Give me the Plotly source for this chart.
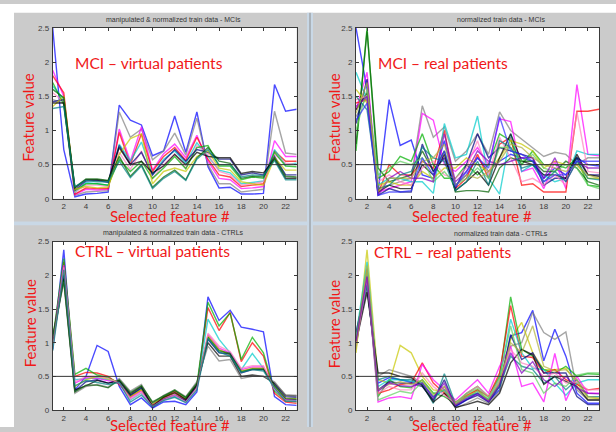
import plotly.graph_objects as go

W, H = 616, 432

features = list(range(1, 24))
threshold = 0.5

# ---- MCI, manipulated (virtual) data ----
mci_virtual = {
    "#0000ff": [2.50,0.72,0.03,0.07,0.08,0.10,1.37,1.15,1.08,0.63,0.70,1.21,0.68,1.27,0.47,0.16,0.17,0.07,0.07,0.08,1.67,1.28,1.31],
    "#808080": [1.45,1.40,0.05,0.10,0.11,0.12,1.27,0.90,1.02,0.57,0.70,0.96,0.64,1.18,0.50,0.22,0.22,0.10,0.12,0.14,1.28,0.67,0.65],
    "#ff00ff": [1.88,1.50,0.06,0.14,0.13,0.14,1.02,0.55,1.05,0.42,0.66,0.80,0.60,0.93,0.55,0.30,0.28,0.15,0.16,0.18,0.85,0.62,0.62],
    "#ff0000": [1.80,1.55,0.07,0.16,0.15,0.15,0.97,0.50,0.95,0.40,0.62,0.75,0.56,0.90,0.58,0.35,0.32,0.18,0.20,0.22,0.70,0.55,0.55],
    "#00cccc": [1.65,1.45,0.09,0.24,0.22,0.20,0.80,0.55,0.83,0.35,0.58,0.70,0.52,0.82,0.62,0.42,0.38,0.22,0.24,0.26,0.72,0.50,0.52],
    "#ff80c0": [1.55,1.42,0.10,0.20,0.20,0.18,0.68,0.43,0.70,0.30,0.50,0.66,0.45,0.78,0.65,0.40,0.35,0.20,0.22,0.25,0.65,0.52,0.50],
    "#00b000": [1.70,1.38,0.12,0.22,0.22,0.20,0.58,0.40,0.55,0.30,0.45,0.62,0.44,0.75,0.78,0.48,0.48,0.28,0.32,0.30,0.68,0.48,0.47],
    "#000080": [1.42,1.45,0.13,0.26,0.27,0.24,0.78,0.50,0.68,0.35,0.55,0.72,0.55,0.72,0.68,0.58,0.58,0.35,0.38,0.35,0.62,0.35,0.35],
    "#c8c800": [1.35,1.50,0.14,0.18,0.16,0.17,0.65,0.88,0.95,0.22,0.40,0.45,0.40,0.62,0.70,0.45,0.42,0.25,0.22,0.20,0.60,0.42,0.42],
    "#000000": [1.40,1.40,0.16,0.28,0.28,0.26,0.75,0.50,0.55,0.38,0.48,0.65,0.50,0.68,0.62,0.60,0.60,0.37,0.40,0.38,0.58,0.30,0.30],
    "#006000": [1.60,1.48,0.17,0.29,0.29,0.27,0.62,0.33,0.50,0.17,0.32,0.42,0.28,0.60,0.75,0.55,0.52,0.30,0.33,0.32,0.60,0.33,0.32],
    "#008080": [1.32,1.35,0.18,0.27,0.25,0.25,0.55,0.31,0.48,0.15,0.30,0.40,0.27,0.58,0.72,0.50,0.50,0.32,0.35,0.34,0.56,0.28,0.28],
}

# ---- MCI, original (real) data ----
mci_real = {
    "#0000ff": [2.50,1.60,0.10,1.45,0.78,0.86,0.35,0.30,0.85,0.20,0.35,0.60,0.40,0.55,0.65,0.60,0.55,0.30,0.45,0.35,0.60,0.50,0.48],
    "#808080": [1.20,1.50,0.15,0.20,0.25,0.30,1.36,0.90,1.05,0.55,0.70,0.95,0.65,1.27,1.00,0.87,0.75,0.62,0.68,0.65,0.50,0.60,0.60],
    "#ff00ff": [1.30,1.85,0.10,0.15,0.20,0.25,1.25,1.15,0.50,0.40,0.55,0.75,0.50,1.17,1.13,0.40,0.45,0.15,0.55,0.15,1.67,0.65,0.63],
    "#ff0000": [1.40,1.45,0.08,0.50,0.35,0.35,0.55,0.45,1.00,0.15,0.30,0.65,0.30,0.80,0.90,0.20,0.22,0.10,0.10,0.10,1.28,1.28,1.31],
    "#00cccc": [1.85,1.45,0.20,0.30,0.30,0.25,0.25,0.08,1.10,0.60,0.65,1.21,0.30,0.07,0.95,0.40,0.50,0.35,0.25,0.30,0.70,0.65,0.65],
    "#00b000": [0.70,2.50,0.30,0.40,0.62,0.55,0.95,0.50,0.30,0.30,0.50,0.35,0.50,0.95,0.85,0.50,0.70,0.50,0.50,0.45,0.60,0.20,0.18],
    "#006000": [0.80,2.45,0.45,0.25,0.30,0.35,0.70,0.40,0.70,0.10,0.12,0.12,0.10,0.45,0.60,0.55,0.55,0.40,0.40,0.55,0.45,0.25,0.20],
    "#000080": [1.10,1.75,0.05,0.15,0.10,0.10,0.80,0.40,0.60,0.15,0.50,0.95,0.60,0.75,0.70,0.65,0.60,0.20,0.30,0.30,0.60,0.35,0.35],
    "#c8c800": [1.60,1.40,0.20,0.25,0.20,0.20,0.40,0.30,0.45,0.45,0.60,0.50,0.40,0.60,0.85,0.80,0.70,0.45,0.55,0.50,0.50,0.30,0.30],
    "#000000": [1.30,1.55,0.10,0.20,0.15,0.15,0.50,0.35,0.65,0.12,0.25,0.40,0.20,0.60,0.95,0.55,0.50,0.35,0.35,0.30,0.65,0.35,0.33],
    "#ff80c0": [1.45,1.50,0.25,0.35,0.25,0.20,0.45,0.55,0.35,0.30,0.45,0.85,0.35,0.90,0.60,0.25,0.30,0.20,0.35,0.20,1.27,0.40,0.38],
    "#60d060": [1.00,1.60,0.35,0.45,0.55,0.50,0.60,0.25,0.40,0.20,0.30,0.45,0.30,0.75,0.75,0.55,0.65,0.45,0.40,0.50,0.45,0.20,0.15],
    "#8000c0": [1.35,1.50,0.05,0.30,0.40,0.30,0.30,0.25,0.95,0.25,0.40,0.70,0.55,0.50,0.55,0.60,0.60,0.30,0.60,0.25,0.55,0.45,0.45],
    "#008080": [1.50,1.30,0.15,0.20,0.35,0.40,0.75,0.60,0.55,0.12,0.25,0.55,0.20,0.85,0.75,0.45,0.50,0.25,0.40,0.25,0.55,0.30,0.28],
    "#b0b040": [1.25,1.70,0.10,0.30,0.30,0.30,0.55,0.60,0.80,0.20,0.35,0.30,0.40,0.55,0.80,0.75,0.60,0.50,0.45,0.40,0.50,0.35,0.30],
    "#3030ff": [1.15,1.40,0.05,0.10,0.10,0.12,0.60,0.35,0.70,0.18,0.40,0.60,0.45,1.20,0.70,0.65,0.55,0.25,0.35,0.35,0.55,0.55,0.55],
}

# ---- CTRL, manipulated (virtual) data ----
ctrl_virtual = {
    "#0000ff": [0.90,2.38,0.30,0.50,0.96,0.87,0.35,0.08,0.18,0.03,0.12,0.13,0.08,0.27,1.68,1.33,1.48,1.23,1.20,1.16,0.20,0.08,0.07],
    "#ff0000": [1.00,2.20,0.50,0.56,0.55,0.50,0.38,0.20,0.30,0.08,0.18,0.28,0.15,0.35,1.52,1.18,1.45,0.72,1.00,0.80,0.25,0.12,0.10],
    "#00b000": [1.05,2.25,0.53,0.62,0.52,0.48,0.40,0.22,0.32,0.10,0.20,0.30,0.18,0.37,1.60,1.25,1.44,0.75,1.08,0.85,0.28,0.14,0.12],
    "#00cccc": [0.95,2.10,0.45,0.47,0.48,0.45,0.42,0.15,0.25,0.06,0.15,0.20,0.12,0.33,1.35,1.05,0.85,0.60,0.84,0.62,0.30,0.16,0.15],
    "#ff00ff": [1.00,2.15,0.40,0.48,0.47,0.43,0.40,0.18,0.28,0.07,0.17,0.24,0.14,0.34,1.12,0.92,0.85,0.60,0.64,0.64,0.32,0.16,0.15],
    "#c8c800": [0.98,2.05,0.35,0.45,0.50,0.46,0.42,0.20,0.30,0.09,0.18,0.25,0.15,0.35,1.10,0.90,0.82,0.58,0.62,0.62,0.35,0.18,0.17],
    "#000080": [1.05,2.00,0.28,0.42,0.45,0.40,0.43,0.22,0.33,0.04,0.16,0.22,0.14,0.36,1.05,0.85,0.83,0.55,0.60,0.60,0.38,0.20,0.19],
    "#000000": [1.02,1.95,0.30,0.36,0.44,0.40,0.44,0.24,0.35,0.06,0.19,0.26,0.16,0.38,1.00,0.80,0.80,0.50,0.52,0.50,0.40,0.22,0.21],
    "#808080": [1.08,1.90,0.25,0.35,0.38,0.34,0.47,0.28,0.38,0.10,0.22,0.30,0.20,0.42,0.95,0.73,0.75,0.47,0.50,0.50,0.42,0.22,0.22],
    "#006000": [1.10,1.92,0.27,0.37,0.37,0.33,0.45,0.26,0.36,0.12,0.21,0.29,0.19,0.40,1.08,0.88,0.84,0.57,0.61,0.61,0.36,0.17,0.16],
    "#ff80c0": [0.92,2.12,0.42,0.50,0.50,0.47,0.40,0.16,0.26,0.05,0.15,0.22,0.12,0.32,1.14,0.95,0.87,0.62,0.66,0.66,0.31,0.14,0.12],
    "#008080": [0.88,2.08,0.36,0.44,0.41,0.38,0.41,0.12,0.22,0.05,0.14,0.19,0.11,0.30,1.06,0.86,0.80,0.56,0.60,0.58,0.33,0.13,0.13],
}

# ---- CTRL, original (real) data ----
ctrl_real = {
    "#0000ff": [1.00,1.85,0.40,0.48,0.45,0.42,0.38,0.20,0.30,0.05,0.15,0.25,0.13,0.30,1.10,1.15,1.48,0.73,1.20,0.80,0.25,0.10,0.10],
    "#808080": [1.10,1.80,0.50,0.60,0.55,0.50,0.40,0.15,0.35,0.03,0.10,0.18,0.10,0.28,0.95,1.00,1.45,1.15,1.05,1.16,0.30,0.15,0.15],
    "#c8c800": [0.85,2.38,0.45,0.40,0.96,0.85,0.50,0.30,0.28,0.08,0.20,0.30,0.15,0.40,1.05,1.30,0.85,0.60,0.60,0.62,0.40,0.18,0.17],
    "#00b000": [0.95,2.00,0.20,0.45,0.35,0.33,0.45,0.25,0.20,0.10,0.25,0.35,0.20,0.50,1.68,0.90,0.80,0.60,0.55,0.65,0.50,0.54,0.53],
    "#ff0000": [1.05,2.10,0.25,0.30,0.38,0.40,0.70,0.40,0.25,0.12,0.22,0.30,0.20,0.55,1.55,0.80,0.78,0.55,0.60,0.45,0.38,0.30,0.32],
    "#00cccc": [1.10,2.20,0.35,0.45,0.45,0.42,0.40,0.20,0.30,0.07,0.18,0.28,0.15,0.45,1.35,0.85,0.62,0.60,0.40,0.22,0.40,0.45,0.45],
    "#ff00ff": [1.00,2.00,0.12,0.18,0.20,0.17,0.68,0.45,0.30,0.15,0.30,0.45,0.25,0.65,0.95,0.35,0.40,0.12,0.84,0.14,0.50,0.25,0.25],
    "#000080": [1.15,1.90,0.30,0.42,0.40,0.40,0.35,0.15,0.45,0.06,0.15,0.22,0.12,0.35,1.12,0.75,0.85,0.55,0.55,0.55,0.20,0.08,0.08],
    "#008080": [1.05,1.85,0.45,0.50,0.45,0.45,0.38,0.10,0.54,0.09,0.20,0.25,0.15,0.35,0.80,0.65,0.60,0.40,0.50,0.30,0.45,0.20,0.20],
    "#000000": [1.00,1.75,0.55,0.55,0.50,0.48,0.36,0.12,0.25,0.04,0.08,0.13,0.08,0.25,0.70,0.90,0.82,0.38,0.50,0.42,0.35,0.15,0.15],
    "#ff80c0": [0.95,1.95,0.25,0.35,0.30,0.30,0.55,0.35,0.22,0.10,0.25,0.35,0.20,0.45,0.90,0.70,0.65,0.50,0.55,0.40,0.42,0.30,0.30],
    "#60d060": [1.08,2.05,0.15,0.22,0.28,0.25,0.42,0.25,0.30,0.11,0.24,0.32,0.18,0.48,1.25,0.60,0.55,0.25,0.40,0.35,0.52,0.55,0.55],
    "#b0b040": [0.90,2.15,0.30,0.38,0.42,0.38,0.44,0.22,0.35,0.08,0.20,0.28,0.14,0.42,1.00,0.85,1.25,0.65,0.58,0.60,0.45,0.20,0.18],
    "#8000c0": [1.02,1.98,0.28,0.40,0.36,0.35,0.40,0.18,0.40,0.07,0.17,0.24,0.13,0.38,0.85,0.55,0.72,0.45,0.35,0.50,0.33,0.25,0.24],
}

panel_titles = [
    "manipulated & normalized train data - MCIs",
    "normalized train data - MCIs",
    "manipulated & normalized train data - CTRLs",
    "normalized train data - CTRLs",
]
panel_labels = [
    "MCI \u2013 virtual patients",
    "MCI \u2013 real patients",
    "CTRL \u2013 virtual patients",
    "CTRL \u2013 real patients",
]
panel_data = [mci_virtual, mci_real, ctrl_virtual, ctrl_real]

x_ticks = list(range(2, 23, 2))
y_ticks = [0, 0.5, 1, 1.5, 2, 2.5]
y_tick_text = ["0", "0.5", "1", "1.5", "2", "2.5"]


def px(x):
    return x / W


def py(y):
    return 1 - y / H


# plot areas in pixels: (left, right, top, bottom)
boxes = [
    (52.7, 296.7, 24.3, 199.0),
    (356.0, 599.0, 24.3, 199.0),
    (52.7, 296.7, 242.7, 414.7),
    (356.0, 599.0, 242.7, 414.7),
]
title_pos = [(173, 16), (501, 16), (173, 234), (501, 234)]
label_pos = [(73, 60), (376, 60), (73, 252), (372, 253)]
ylab_pos = [(28, 116), (334, 116), (30, 326), (334, 327)]
xlab_pos = [(170, 216.5), (472, 216.5), (170, 429.5), (472, 429.5)]

fig = go.Figure()
layout = dict(
    width=W, height=H,
    margin=dict(l=0, r=0, t=0, b=0),
    paper_bgcolor="#cbcbcb",
    plot_bgcolor="white",
    showlegend=False,
    shapes=[], annotations=[],
)

axis_common = dict(
    showline=True, linecolor="#3a3a3a", linewidth=1, mirror="ticks",
    ticks="inside", ticklen=3, tickcolor="#3a3a3a", tickwidth=1,
    showgrid=False, zeroline=False,
    tickfont=dict(family="Arial, Liberation Sans, sans-serif", size=8, color="#3c3c3c"),
)

red = "#f01818"
for i, (data, box) in enumerate(zip(panel_data, boxes)):
    n = "" if i == 0 else str(i + 1)
    l, r, t, b = box
    layout["xaxis" + n] = dict(
        axis_common, domain=[px(l), px(r)], range=[1, 23],
        tickvals=x_ticks, anchor="y" + n,
    )
    layout["yaxis" + n] = dict(
        axis_common, domain=[py(b), py(t)], range=[0, 2.5],
        tickvals=y_ticks, ticktext=y_tick_text, anchor="x" + n,
        ticklabelstandoff=1,
    )
    for color, vals in data.items():
        fig.add_trace(go.Scatter(
            x=features, y=vals, mode="lines",
            line=dict(color=color, width=1.4), opacity=0.7,
            xaxis="x" + n, yaxis="y" + n, hoverinfo="skip",
        ))
    # reference line at the threshold
    layout["shapes"].append(dict(
        type="line", xref=f"x{n} domain", yref="y" + n,
        x0=0, x1=1, y0=threshold, y1=threshold,
        line=dict(color="#333333", width=1), layer="above",
    ))
    tx, ty = title_pos[i]
    layout["annotations"].append(dict(
        text=panel_titles[i], x=px(tx), y=py(ty), xref="paper", yref="paper",
        xanchor="center", yanchor="middle", showarrow=False,
        font=dict(family="Arial, Liberation Sans, sans-serif", size=7, color="#333333"),
    ))
    lx, ly = label_pos[i]
    layout["annotations"].append(dict(
        text=panel_labels[i], x=px(lx), y=py(ly), xref="paper", yref="paper",
        xanchor="left", yanchor="middle", showarrow=False,
        font=dict(family="Lato", size=15.5, color=red),
    ))
    vx, vy = ylab_pos[i]
    layout["annotations"].append(dict(
        text="Feature value", x=px(vx), y=py(vy), xref="paper", yref="paper",
        xanchor="center", yanchor="middle", showarrow=False, textangle=-90,
        font=dict(family="Lato", size=15, color=red),
    ))
    hx, hy = xlab_pos[i]
    layout["annotations"].append(dict(
        text="Selected feature #", x=px(hx), y=py(hy), xref="paper", yref="paper",
        xanchor="center", yanchor="middle", showarrow=False,
        font=dict(family="Lato", size=15, color=red),
    ))

# white outer border (top and left) and the pale window dividers
layout["shapes"] += [
    dict(type="rect", xref="paper", yref="paper", x0=0, x1=1, y0=py(9), y1=1,
         fillcolor="white", line_width=0, layer="below"),
    dict(type="rect", xref="paper", yref="paper", x0=0, x1=px(14), y0=0, y1=1,
         fillcolor="white", line_width=0, layer="below"),
    dict(type="rect", xref="paper", yref="paper", x0=px(14), x1=1, y0=py(226), y1=py(222),
         fillcolor="#c9d8e6", line_width=0, layer="below"),
    dict(type="rect", xref="paper", yref="paper", x0=px(307), x1=px(313), y0=0, y1=py(9),
         fillcolor="#c9d8e6", line_width=0, layer="below"),
    dict(type="line", xref="paper", yref="paper", x0=px(310), x1=px(310), y0=0, y1=py(9),
         line=dict(color="#8c8c8c", width=1), layer="below"),
]

fig.update_layout(**layout)
fig.write_html("out.html")
